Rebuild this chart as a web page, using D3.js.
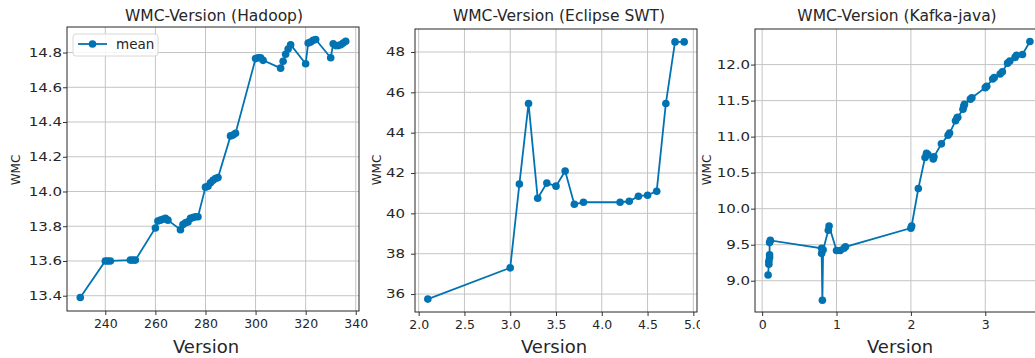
<!DOCTYPE html>
<html>
<head>
<meta charset="utf-8">
<script src="https://cdn.jsdelivr.net/npm/d3@7"></script>
<style>
  html, body { margin: 0; padding: 0; background: #fff; }
  svg { display: block; font-family: "DejaVu Sans", sans-serif; }
</style>
</head>
<body>
<svg id="chart" width="1035" height="358"></svg>
<script>
// ---------------- data ----------------
const hadoopVersion = [230,240,241,242,250,251,252,260,261,262,263,264,265,270,271,272,273,274,275,276,277,280,281,282,283,284,285,290,291,292,300,301,302,303,310,311,312,313,314,320,321,322,323,324,330,331,332,333,334,335,336];
const hadoopWMC = [13.39,13.60,13.60,13.60,13.605,13.605,13.605,13.79,13.83,13.835,13.84,13.845,13.835,13.78,13.81,13.82,13.825,13.845,13.85,13.855,13.855,14.025,14.03,14.05,14.065,14.075,14.08,14.32,14.325,14.335,14.765,14.77,14.77,14.755,14.71,14.75,14.79,14.82,14.845,14.735,14.855,14.86,14.87,14.875,14.77,14.85,14.84,14.84,14.845,14.855,14.865];
const hadoopXTicks = [240,260,280,300,320,340];
const hadoopYTicks = [13.4,13.6,13.8,14.0,14.2,14.4,14.6,14.8];

const swtVersion = [2.1,3.0,3.1,3.2,3.3,3.4,3.5,3.6,3.7,3.8,4.2,4.3,4.4,4.5,4.6,4.7,4.8,4.9];
const swtWMC = [35.75,37.3,41.45,45.45,40.75,41.5,41.35,42.1,40.45,40.55,40.55,40.6,40.85,40.9,41.1,45.45,48.5,48.5];
const swtXTicks = [2.0,2.5,3.0,3.5,4.0,4.5,5.0];
const swtYTicks = [36,38,40,42,44,46,48];

const kafkaVersion = [0.08,0.09,0.09,0.10,0.10,0.10,0.11,0.80,0.80,0.81,0.82,0.89,0.90,1.00,1.05,1.10,1.12,2.00,2.01,2.10,2.19,2.21,2.23,2.30,2.31,2.41,2.50,2.52,2.60,2.62,2.63,2.70,2.71,2.72,2.80,2.82,3.00,3.02,3.10,3.12,3.20,3.23,3.30,3.33,3.40,3.42,3.50,3.60];
const kafkaWMC = [9.08,9.23,9.27,9.32,9.36,9.53,9.56,9.45,9.38,8.73,9.43,9.70,9.76,9.42,9.42,9.45,9.47,9.73,9.76,10.28,10.71,10.77,10.75,10.69,10.72,10.90,11.02,11.05,11.22,11.26,11.27,11.38,11.42,11.45,11.52,11.54,11.68,11.70,11.80,11.82,11.87,11.90,12.02,12.05,12.10,12.13,12.14,12.32];
const kafkaXTicks = [0,1,2,3];
const kafkaYTicks = [9.0,9.5,10.0,10.5,11.0,11.5,12.0];

const titles = ["WMC-Version (Hadoop)", "WMC-Version (Eclipse SWT)", "WMC-Version (Kafka-java)"];
const xLabel = "Version";
const yLabel = "WMC";
const legendLabel = "mean";

// ---------------- drawing ----------------
const svg = d3.select("#chart");
const BLUE = "#0173b2";
const TEXT = "#262626";
const GRID = "#c4c4c4";
const Y_STRETCH = 1.25;

function drawPanel(p) {
  const g = svg.append("g");
  if (p.clipLeft !== undefined) {
    g.append("rect").attr("x", p.clipLeft).attr("y", 0)
      .attr("width", 1035 - p.clipLeft).attr("height", 358).attr("fill", "#fff");
  }
  const x = d3.scaleLinear().domain(p.xDomain).range([p.left, p.right]);
  const y = d3.scaleLinear().domain(p.yDomain).range([p.bottom, p.top]);

  const clipId = "clip" + p.id;
  svg.append("clipPath").attr("id", clipId).append("rect")
    .attr("x", p.left).attr("y", p.top)
    .attr("width", p.right - p.left).attr("height", p.bottom - p.top);

  // grid
  const grid = g.append("g").attr("clip-path", `url(#${clipId})`);
  grid.selectAll("line.gx").data(p.xTicks).join("line")
    .attr("class", "gx")
    .attr("x1", d => x(d)).attr("x2", d => x(d))
    .attr("y1", p.top).attr("y2", p.bottom)
    .attr("stroke", GRID).attr("stroke-width", 1);
  grid.selectAll("line.gy").data(p.yTicks).join("line")
    .attr("class", "gy")
    .attr("x1", p.left).attr("x2", p.right)
    .attr("y1", d => y(d)).attr("y2", d => y(d))
    .attr("stroke", GRID).attr("stroke-width", 1);

  // axes
  const xAxis = d3.axisBottom(x).tickValues(p.xTicks).tickFormat(p.xFmt).tickSize(4).tickPadding(4);
  const yAxis = d3.axisLeft(y).tickValues(p.yTicks).tickFormat(p.yFmt).tickSize(4).tickPadding(4);
  const gx = g.append("g").attr("transform", `translate(0,${p.bottom})`).call(xAxis);
  const gy = g.append("g").attr("transform", `translate(${p.left},0)`).call(yAxis);
  [gx, gy].forEach(a => {
    a.select(".domain").remove();
    a.selectAll(".tick line").attr("stroke", "#333");
    a.selectAll(".tick text").attr("fill", TEXT)
      .style("font-family", "'DejaVu Sans', sans-serif");
  });
  gx.selectAll(".tick text").style("font-size", "12.5px");
  gy.selectAll(".tick text").style("font-size", "12px")
    .attr("x", -p.yGap / Y_STRETCH)
    .attr("transform", `scale(${Y_STRETCH},1)`);

  // data
  const pts = p.xs.map((v, i) => [v, p.ys[i]]);
  const plot = g.append("g").attr("clip-path", `url(#${clipId})`);
  plot.append("path").datum(pts)
    .attr("d", d3.line().x(d => x(d[0])).y(d => y(d[1])))
    .attr("fill", "none").attr("stroke", BLUE).attr("stroke-width", 1.8);
  g.append("g").selectAll("circle").data(pts).join("circle")
    .attr("cx", d => x(d[0])).attr("cy", d => y(d[1]))
    .attr("r", 3.8).attr("fill", BLUE);

  // frame
  g.append("rect").attr("x", p.left).attr("y", p.top)
    .attr("width", p.right - p.left).attr("height", p.bottom - p.top)
    .attr("fill", "none").attr("stroke", "#262626").attr("stroke-width", 1);

  // title and labels
  g.append("text").attr("x", p.titleX).attr("y", 21)
    .attr("text-anchor", "middle").attr("fill", TEXT).style("font-size", "15.5px")
    .text(p.title);
  g.append("text").attr("x", p.xLabelX).attr("y", 353)
    .attr("text-anchor", "middle").attr("fill", TEXT).style("font-size", "18px")
    .text(xLabel);
  g.append("text")
    .attr("transform", `translate(${p.yLabelX},170) rotate(-90)`)
    .attr("text-anchor", "middle").attr("fill", TEXT).style("font-size", "12px")
    .text(yLabel);

  if (p.legend) {
    const lg = g.append("g");
    lg.append("rect").attr("x", 73).attr("y", 34).attr("width", 85).attr("height", 22)
      .attr("rx", 3).attr("fill", "#fff").attr("fill-opacity", 0.85)
      .attr("stroke", "#d8d8d8").attr("stroke-width", 1);
    lg.append("line").attr("x1", 78).attr("x2", 107).attr("y1", 44).attr("y2", 44)
      .attr("stroke", BLUE).attr("stroke-width", 1.8);
    lg.append("circle").attr("cx", 92.5).attr("cy", 44).attr("r", 3.8).attr("fill", BLUE);
    lg.append("text").attr("x", 116).attr("y", 49).attr("fill", TEXT)
      .style("font-size", "13.5px").text(legendLabel);
  }
}

const f1 = d3.format(".1f");
const f0 = d3.format("d");

drawPanel({
  id: 1, title: titles[0], xs: hadoopVersion, ys: hadoopWMC,
  xTicks: hadoopXTicks, yTicks: hadoopYTicks, xFmt: f0, yFmt: f1,
  xDomain: [224.7, 341.3], yDomain: [13.312, 14.947],
  left: 67, right: 359, top: 27, bottom: 311, yGap: 5,
  titleX: 214, xLabelX: 206, yLabelX: 20, legend: true
});
drawPanel({
  id: 2, title: titles[1], xs: swtVersion, ys: swtWMC,
  xTicks: swtXTicks, yTicks: swtYTicks, xFmt: f1, yFmt: f0,
  xDomain: [1.96, 5.04], yDomain: [35.11, 49.14],
  left: 415, right: 697, top: 29, bottom: 312, yGap: 10,
  titleX: 559, xLabelX: 554, yLabelX: 381, legend: false
});
drawPanel({
  id: 3, title: titles[2], xs: kafkaVersion, ys: kafkaWMC,
  xTicks: kafkaXTicks, yTicks: kafkaYTicks, xFmt: f0, yFmt: f1,
  xDomain: [-0.096, 3.776], yDomain: [8.566, 12.494],
  left: 755, right: 1043, top: 29, bottom: 312, yGap: 5,
  titleX: 897, xLabelX: 900, yLabelX: 711, legend: false, clipLeft: 700
});
</script>
</body>
</html>
